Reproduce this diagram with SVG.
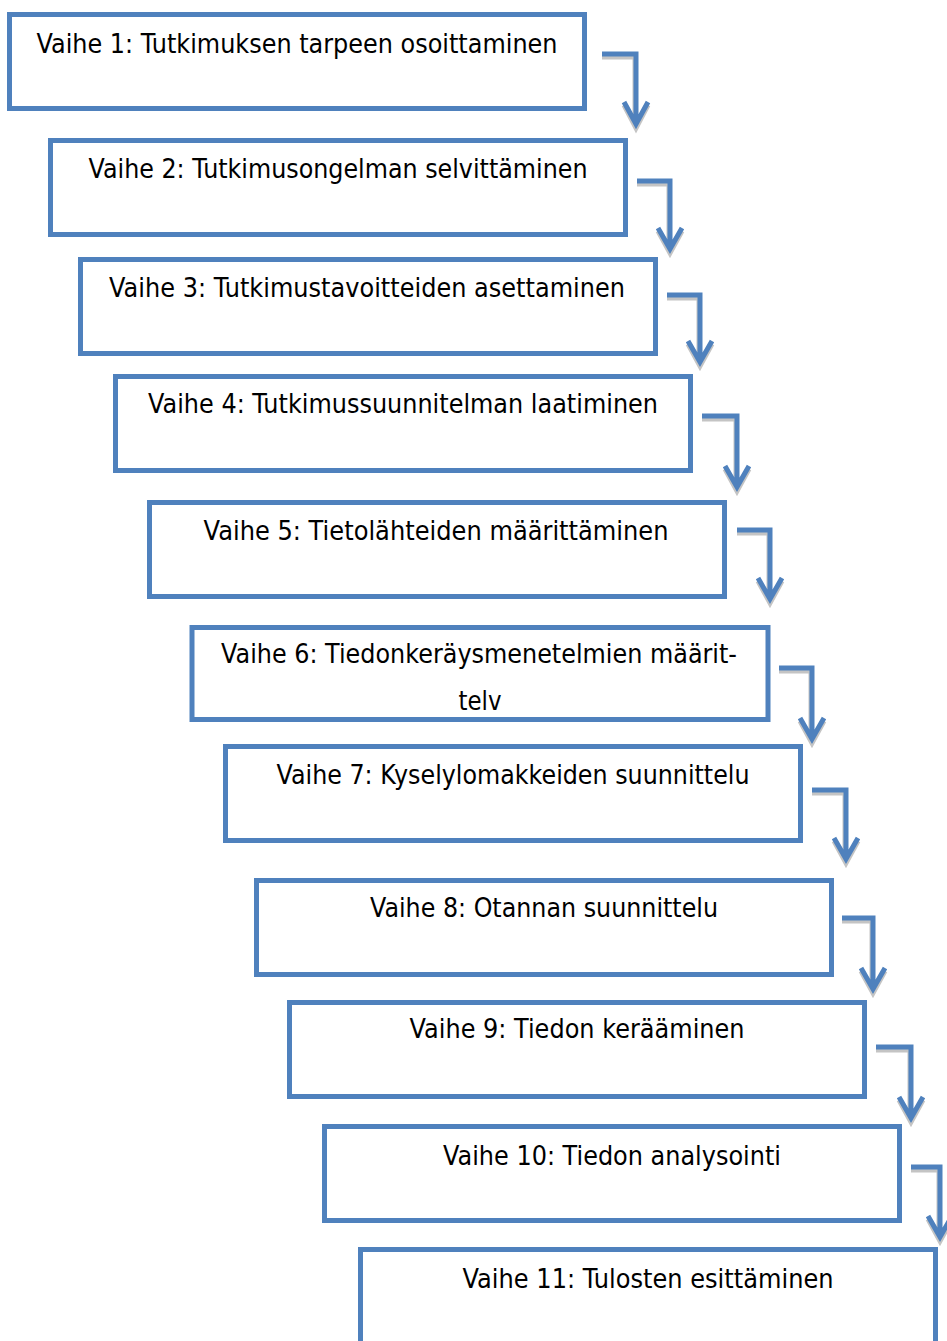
<svg xmlns="http://www.w3.org/2000/svg" width="947" height="1341" viewBox="0 0 947 1341">
<style>
.box{fill:#fff;stroke:#4F81BD;stroke-width:5}
.t{font-family:"DejaVu Sans","Liberation Sans",sans-serif;font-size:26px;fill:#000;text-anchor:middle}
.c{fill:none;stroke:#4F81BD;stroke-width:5;stroke-linejoin:miter}
.s{fill:none;stroke:#C4C4C4;stroke-width:5;stroke-linejoin:miter}
</style>
<defs>
<path id="a" d="M0,0 H34 V70 M22,48 L34,70 L46,48" transform="translate(0,0)"/>
</defs>
<rect width="947" height="1341" fill="#fff"/>
<g id="connectors">
<g id="arr1"><path class="s" d="M602,57 H635 V125 M624,105 L636,128 L648,105"/><path class="c" d="M602,54 H636 V124 M624,102 L636,124 L648,102"/></g>
<g id="arr2"><path class="s" d="M637,184 H669 V250 M658,231 L670,253 L682,231"/><path class="c" d="M637,181 H670 V249 M658,228 L670,249 L682,228"/></g>
<g id="arr3"><path class="s" d="M667,298 H699 V363 M688,344 L700,366 L712,344"/><path class="c" d="M667,295 H700 V362 M688,341 L700,362 L712,341"/></g>
<g id="arr4"><path class="s" d="M702,419 H736 V488 M725,469 L737,491 L749,469"/><path class="c" d="M702,416 H737 V487 M725,466 L737,487 L749,466"/></g>
<g id="arr5"><path class="s" d="M737,533 H769 V600 M758,581 L770,603 L782,581"/><path class="c" d="M737,530 H770 V599 M758,578 L770,599 L782,578"/></g>
<g id="arr6"><path class="s" d="M779,671 H811 V740 M800,721 L812,743 L824,721"/><path class="c" d="M779,668 H812 V739 M800,718 L812,739 L824,718"/></g>
<g id="arr7"><path class="s" d="M812,793 H845 V860 M834,841 L846,863 L858,841"/><path class="c" d="M812,790 H846 V859 M834,838 L846,859 L858,838"/></g>
<g id="arr8"><path class="s" d="M842,921 H872 V990 M861,971 L873,993 L885,971"/><path class="c" d="M842,918 H873 V989 M861,968 L873,989 L885,968"/></g>
<g id="arr9"><path class="s" d="M876,1050 H910 V1119 M899,1100 L911,1122 L923,1100"/><path class="c" d="M876,1047 H911 V1118 M899,1097 L911,1118 L923,1097"/></g>
<g id="arr10"><path class="s" d="M911,1170 H939 V1238 M928,1219 L940,1241 L952,1219"/><path class="c" d="M911,1167 H940 V1237 M928,1216 L940,1237 L952,1216"/></g>
</g>
<g id="n1"><rect class="box" x="9.5" y="14.5" width="575" height="94"/><text class="t" x="297" y="53" textLength="521" lengthAdjust="spacingAndGlyphs">Vaihe 1: Tutkimuksen tarpeen osoittaminen</text></g>
<g id="n2"><rect class="box" x="50.5" y="140.5" width="575" height="94"/><text class="t" x="338" y="178" textLength="499" lengthAdjust="spacingAndGlyphs">Vaihe 2: Tutkimusongelman selvittäminen</text></g>
<g id="n3"><rect class="box" x="80.5" y="259.5" width="575" height="94"/><text class="t" x="367" y="297" textLength="516" lengthAdjust="spacingAndGlyphs">Vaihe 3: Tutkimustavoitteiden asettaminen</text></g>
<g id="n4"><rect class="box" x="115.5" y="376.5" width="575" height="94"/><text class="t" x="403" y="413" textLength="510" lengthAdjust="spacingAndGlyphs">Vaihe 4: Tutkimussuunnitelman laatiminen</text></g>
<g id="n5"><rect class="box" x="149.5" y="502.5" width="575" height="94"/><text class="t" x="436" y="540" textLength="465" lengthAdjust="spacingAndGlyphs">Vaihe 5: Tietolähteiden määrittäminen</text></g>
<g id="n6"><rect class="box" x="192" y="627.5" width="576" height="92"/><text class="t" x="479" y="663" textLength="516" lengthAdjust="spacingAndGlyphs">Vaihe 6: Tiedonkeräysmenetelmien määrit-</text><text class="t" x="480" y="710" textLength="43" lengthAdjust="spacingAndGlyphs">telv</text></g>
<g id="n7"><rect class="box" x="225.5" y="746.5" width="575" height="94"/><text class="t" x="513" y="784" textLength="473" lengthAdjust="spacingAndGlyphs">Vaihe 7: Kyselylomakkeiden suunnittelu</text></g>
<g id="n8"><rect class="box" x="256.5" y="880.5" width="575" height="94"/><text class="t" x="544" y="917" textLength="348" lengthAdjust="spacingAndGlyphs">Vaihe 8: Otannan suunnittelu</text></g>
<g id="n9"><rect class="box" x="289.5" y="1002.5" width="575" height="94"/><text class="t" x="577" y="1038" textLength="335" lengthAdjust="spacingAndGlyphs">Vaihe 9: Tiedon kerääminen</text></g>
<g id="n10"><rect class="box" x="324.5" y="1126.5" width="575" height="94"/><text class="t" x="612" y="1165" textLength="338" lengthAdjust="spacingAndGlyphs">Vaihe 10: Tiedon analysointi</text></g>
<g id="n11"><rect class="box" x="360.5" y="1249.5" width="575" height="120"/><text class="t" x="648" y="1288" textLength="371" lengthAdjust="spacingAndGlyphs">Vaihe 11: Tulosten esittäminen</text></g>
</svg>
